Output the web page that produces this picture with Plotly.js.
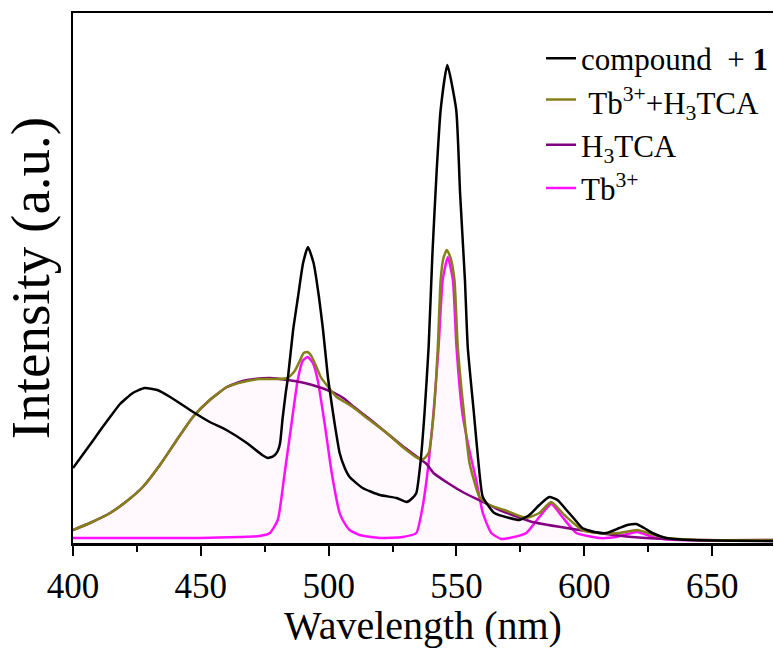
<!DOCTYPE html>
<html>
<head>
<meta charset="utf-8">
<script src="https://cdn.plot.ly/plotly-3.0.1.min.js"></script>
<style>html,body{margin:0;padding:0;background:#fff;}#chart{width:774px;height:648px;}</style>
</head>
<body>
<div id="chart"></div>
<script>
// Wavelength (nm) and intensity (a.u.)
const compoundWl = [400, 404, 408, 411.3, 414.5, 418.4, 423.4, 428, 433, 438, 447, 453.5, 460, 468, 474, 476.2, 478.5, 480.1, 481, 482, 483.2, 484.1, 486.1, 488, 490, 491.9, 494.1, 496.2, 497.8, 499.7, 500.4, 502.3, 504.3, 506.3, 508.2, 513.3, 520, 526.6, 530.5, 532.8, 534.3, 535.9, 537.5, 539.1, 540.6, 542.2, 543.8, 546.4, 549.9, 551.4, 553.3, 554.4, 556.8, 558.6, 560.3, 564.8, 570.7, 574.6, 578.5, 582.4, 586.3, 589.5, 593, 596.1, 599.2, 603.9, 608.6, 613.7, 616.8, 620.3, 623.4, 626.6, 632, 641, 675];
const compoundI  = [75, 89, 103, 115, 126, 139, 150, 155, 153, 146, 131, 121, 113, 100, 88, 85, 87, 92, 100, 125, 150, 166, 213, 246, 280, 296, 280, 246, 213, 166, 153, 120, 90, 75, 66, 55, 48, 45, 41, 45, 50, 80, 130, 196, 290, 370, 433, 478, 433, 350, 263, 196, 130, 80, 46, 30, 25, 23, 28, 38, 46, 43, 33, 24, 15, 11, 10, 15, 18, 19, 15, 10, 5, 3, 2];

const mixWl = [400, 406.6, 414.5, 421.1, 427.3, 434, 440.6, 446.9, 453.5, 460.2, 466.4, 473, 479.7, 484, 486.7, 488.7, 490.2, 491.7, 493, 494.9, 496.9, 499.2, 503.1, 506.3, 509.4, 516, 522.7, 528.9, 534.8, 537.1, 539.1, 541.1, 542.7, 543.8, 544.9, 546.2, 547.7, 549.2, 550.5, 552.9, 555.1, 559, 562.9, 568.8, 577.3, 582.4, 587, 592.2, 599.2, 605.9, 613.7, 620.7, 627.3, 632, 645, 675];
const mixI  = [13, 20, 30, 42, 56, 78, 103, 126, 143, 156, 161, 164, 164, 165, 172, 182, 190, 191, 188, 178, 166, 158, 146, 141, 136, 123, 110, 96, 85, 84, 90, 130, 196, 263, 285, 293, 285, 263, 196, 130, 80, 46, 38, 33, 25, 30, 41, 28, 13, 10, 10, 13, 8, 5, 3, 3];

const ligandWl = [400, 406.6, 414.5, 421.1, 427.3, 434, 440.6, 446.9, 453.5, 460.2, 466.4, 471.1, 477, 484, 490.6, 497.3, 502.3, 506.3, 509.4, 516, 522.7, 528.9, 533.6, 538.3, 541, 546.6, 553.1, 559.6, 566.8, 568.8, 579.7, 593, 605.9, 618.8, 632, 645, 675];
const ligandI  = [13, 20, 30, 42, 56, 78, 103, 126, 143, 156, 162, 164, 165, 163, 160, 155, 150, 144, 137, 124, 110, 97, 88, 79, 70, 60, 50, 42, 33, 31, 21, 15, 10, 6, 4, 3, 2];

const tbWl = [400, 430, 449.6, 465.2, 473, 477, 480.1, 482.8, 485.5, 487.9, 489.8, 491.8, 493.8, 495.7, 498.4, 501.2, 504.3, 505.5, 508.2, 512.1, 519.9, 528.9, 534.3, 536.3, 538.3, 541, 543, 544.6, 546.6, 548.6, 550, 552.3, 555.1, 557.7, 560.3, 563.6, 567.5, 570.7, 577.3, 582.4, 587.1, 591.4, 596.9, 605.9, 612.5, 620.7, 628.1, 637.1, 675];
const tbI  = [5, 5, 5, 6, 7, 10, 23, 70, 120, 163, 182, 186, 180, 163, 120, 70, 30, 23, 13, 8, 5, 6, 10, 30, 63, 130, 196, 263, 286, 263, 196, 130, 92, 63, 30, 10, 4, 5, 10, 26, 39, 26, 10, 5, 6, 11, 5, 3, 3];

const seriesNames = ['compound  + <b>1</b>', ' Tb<sup>3+</sup>+H<sub>3</sub>TCA', 'H<sub>3</sub>TCA', 'Tb<sup>3+</sup>'];
const xTitle = 'Wavelength (nm)';
const yTitle = 'Intensity (a.u.)';

const serif = 'Liberation Serif, Times New Roman, serif';

const traces = [
  {x: tbWl, y: tbI, name: seriesNames[3], mode: 'lines', line: {color: '#ff10ff', width: 2.5, shape: 'spline', smoothing: 0.5}, legendrank: 4, legendgroup: 'd'},
  {x: ligandWl, y: ligandI, name: seriesNames[2], mode: 'lines', line: {color: '#800080', width: 2.5, shape: 'spline', smoothing: 0.5}, legendrank: 3, legendgroup: 'c'},
  {x: mixWl, y: mixI, name: seriesNames[1], mode: 'lines', line: {color: '#858018', width: 2.5, shape: 'spline', smoothing: 0.5}, fill: 'tozeroy', fillcolor: 'rgba(240,0,170,0.025)', legendrank: 2, legendgroup: 'b'},
  {x: compoundWl, y: compoundI, name: seriesNames[0], mode: 'lines', line: {color: '#000000', width: 2.5, shape: 'spline', smoothing: 0.5}, legendrank: 1, legendgroup: 'a'}
];

const layout = {
  width: 774, height: 648,
  margin: {l: 73, r: 0, t: 13, b: 105},
  paper_bgcolor: '#ffffff', plot_bgcolor: '#ffffff',
  showlegend: true,
  legend: {
    x: 0.669, y: 0.965, xanchor: 'left', yanchor: 'top',
    font: {family: serif, size: 31, color: '#000'},
    bgcolor: 'rgba(0,0,0,0)', borderwidth: 0,
    traceorder: 'grouped', tracegroupgap: 0
  },
  xaxis: {
    range: [400, 673.8], showgrid: false, zeroline: false,
    showline: true, linecolor: '#000', linewidth: 2.5, mirror: true,
    ticks: 'outside', ticklen: 10, tickwidth: 2, tickcolor: '#000',
    dtick: 50, tick0: 400, ticklabelstandoff: 0,
    minor: {dtick: 25, tick0: 400, ticks: 'outside', ticklen: 6, tickwidth: 2, tickcolor: '#000'},
    tickfont: {family: serif, size: 35, color: '#000'},
    title: {text: xTitle, font: {family: serif, size: 40, color: '#000'}, standoff: 6}
  },
  yaxis: {
    range: [0, 530], showgrid: false, zeroline: false,
    showline: true, linecolor: '#000', linewidth: 2.5, mirror: false,
    ticks: '', showticklabels: false,
    title: {text: yTitle, font: {family: serif, size: 55, color: '#000'}, standoff: 8}
  }
};

Plotly.newPlot('chart', traces, layout, {displayModeBar: false, staticPlot: true});
</script>
</body>
</html>
